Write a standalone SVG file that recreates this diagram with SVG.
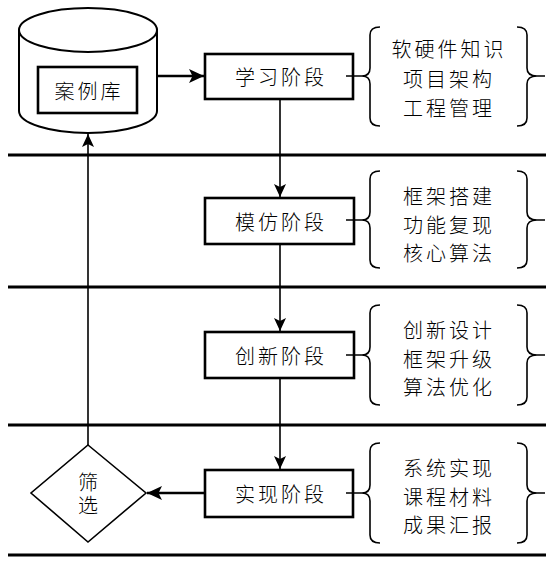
<svg xmlns="http://www.w3.org/2000/svg" width="553" height="578" viewBox="0 0 553 578">
<style>
text{font-family:"Noto Sans CJK SC","Noto Sans",sans-serif;font-size:20px;font-weight:300;letter-spacing:3px;fill:#000;text-anchor:middle;dominant-baseline:central}
.box{fill:#fff;stroke:#000;stroke-width:2.6}
.rule{stroke:#000;stroke-width:3}
.thin{fill:none;stroke:#000;stroke-width:1.6}
.thick{fill:none;stroke:#000;stroke-width:2.6}
.brace{fill:none;stroke:#000;stroke-width:1.6}
</style>
<defs>
<marker id="ah" markerUnits="userSpaceOnUse" markerWidth="14" markerHeight="12" refX="13" refY="6" orient="auto"><path d="M0,0 L13,6 L0,12 L3,6 Z" fill="#000"/></marker>
<marker id="ahb" markerUnits="userSpaceOnUse" markerWidth="16" markerHeight="14" refX="15" refY="7" orient="auto"><path d="M0,0 L15,7 L0,14 L3.5,7 Z" fill="#000"/></marker>
</defs>
<g id="rules">
<line class="rule" x1="8" y1="155" x2="546" y2="155"/>
<line class="rule" x1="8" y1="287" x2="546" y2="287"/>
<line class="rule" x1="8" y1="425" x2="546" y2="425"/>
<line class="rule" x1="8" y1="555" x2="546" y2="555"/>
</g>
<g id="connectors">
<path class="thick" d="M157,76 L204,76" marker-end="url(#ahb)"/>
<path class="thin" d="M280,99 L280,197" marker-end="url(#ah)"/>
<path class="thin" d="M280,244 L280,331" marker-end="url(#ah)"/>
<path class="thin" d="M280,378 L280,469" marker-end="url(#ah)"/>
<path class="thick" d="M205,493 L147,493" marker-end="url(#ahb)"/>
<path class="thin" d="M88,445 L88,134" marker-end="url(#ah)"/>
</g>
<g id="db">
<path d="M19,30 L19,111 A69,22 0 0 0 157,111 L157,30 Z" fill="#fff" stroke="#000" stroke-width="2"/>
<ellipse cx="88" cy="30" rx="69" ry="22" fill="#fff" stroke="#000" stroke-width="2"/>
<rect class="box" x="38" y="67" width="99" height="46"/>
<text x="89" y="90">案例库</text>
</g>
<g id="learn">
<rect class="box" x="205" y="54" width="148" height="45"/>
<text x="281" y="76">学习阶段</text>
</g>
<g id="learn-notes">
<path class="brace" d="M346,76 L362,76 Q370,76 370,68 L370,35 Q370,27 380,27 M362,76 Q370,76 370,84 L370,118 Q370,126 380,126"/>
<path class="brace" d="M517,27 Q527,27 527,35 L527,68 Q527,76 537,76 Q527,76 527,84 L527,118 Q527,126 517,126 M537,76 L545,76"/>
<text><tspan x="449" y="48">软硬件知识</tspan><tspan x="449" y="78">项目架构</tspan><tspan x="449" y="107">工程管理</tspan></text>
</g>
<g id="imitate">
<rect class="box" x="205" y="198" width="149" height="46"/>
<text x="281" y="221">模仿阶段</text>
</g>
<g id="imitate-notes">
<path class="brace" d="M346,220 L362,220 Q370,220 370,212 L370,179 Q370,171 380,171 M362,220 Q370,220 370,228 L370,260 Q370,268 380,268"/>
<path class="brace" d="M517,171 Q527,171 527,179 L527,212 Q527,220 537,220 Q527,220 527,228 L527,260 Q527,268 517,268 M537,220 L545,220"/>
<text><tspan x="449" y="195">框架搭建</tspan><tspan x="449" y="224">功能复现</tspan><tspan x="449" y="252">核心算法</tspan></text>
</g>
<g id="innovate">
<rect class="box" x="205" y="332" width="149" height="46"/>
<text x="281" y="355">创新阶段</text>
</g>
<g id="innovate-notes">
<path class="brace" d="M346,355 L362,355 Q370,355 370,347 L370,313 Q370,305 380,305 M362,355 Q370,355 370,363 L370,397 Q370,405 380,405"/>
<path class="brace" d="M517,305 Q527,305 527,313 L527,347 Q527,355 537,355 Q527,355 527,363 L527,397 Q527,405 517,405 M537,355 L545,355"/>
<text><tspan x="449" y="329">创新设计</tspan><tspan x="449" y="358">框架升级</tspan><tspan x="449" y="386">算法优化</tspan></text>
</g>
<g id="realize">
<rect class="box" x="205" y="470" width="148" height="47"/>
<text x="281" y="493">实现阶段</text>
</g>
<g id="realize-notes">
<path class="brace" d="M346,493 L362,493 Q370,493 370,485 L370,451 Q370,443 380,443 M362,493 Q370,493 370,501 L370,535 Q370,543 380,543"/>
<path class="brace" d="M517,443 Q527,443 527,451 L527,485 Q527,493 537,493 Q527,493 527,501 L527,535 Q527,543 517,543 M537,493 L545,493"/>
<text><tspan x="449" y="467">系统实现</tspan><tspan x="449" y="496">课程材料</tspan><tspan x="449" y="524">成果汇报</tspan></text>
</g>
<g id="filter">
<path d="M88,445 L146,493 L88,542 L31,493 Z" fill="#fff" stroke="#000" stroke-width="1.6"/>
<text x="88" y="495" writing-mode="vertical-rl">筛选</text>
</g>
</svg>
